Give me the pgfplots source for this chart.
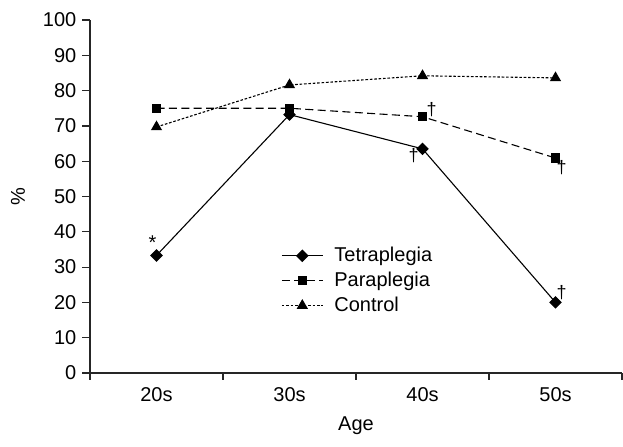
\documentclass[border=0pt]{standalone}
\usepackage{pgfplots}
\pgfplotsset{compat=1.18}
\usepackage{fontspec}
\setmainfont{Liberation Sans}
\usetikzlibrary{calc}

\pgfplotstableread{
x    tetra para ctrl
0.5  33.3  75.0 69.7
1.5  73.2  75.0 81.6
2.5  63.5  72.6 84.2
3.5  20.0  60.9 83.6
}\agedata

\begin{document}
\begin{tikzpicture}
\begin{axis}[
  scale only axis, width=266pt, height=176.5pt,
  xmin=0, xmax=4, ymin=0, ymax=100,
  axis x line=bottom, axis y line=left,
  axis line style={-, line width=0.6pt, black!85},
  xtick={0.5,1.5,2.5,3.5}, xticklabels={20s,30s,40s,50s},
  major x tick style={draw=none},
  minor xtick={0,1,2,3,4},
  minor tick length=3.3pt, major tick length=3.8pt,
  ytick={0,10,...,100},
  tick align=outside,
  tick style={line width=0.6pt, black!85},
  /pgf/number format/assume math mode=true,
  tick label style={font=\fontsize{10}{12}\selectfont},
  xticklabel style={yshift=0.2pt},
  yticklabel style={xshift=0.5pt},
  xlabel={Age}, ylabel={\%},
  label style={font=\fontsize{10}{12}\selectfont},
  every axis x label/.style={at={(axis description cs:0.5,0)}, yshift=-26.5pt, anchor=center},
  every axis y label/.style={at={(axis description cs:0,0.5)}, xshift=-36pt, rotate=90, anchor=center},
  legend style={draw=none, fill=none, at={(axis cs:1.42,37.5)}, anchor=north west,
    font=\fontsize{10}{12}\selectfont, row sep=-0.3pt, inner sep=1pt},
  legend cell align=left,
  legend image code/.code={\draw[mark repeat=2,mark phase=2,#1] plot coordinates {(0pt,0pt) (10.25pt,0pt) (20.5pt,0pt)};
    \path (24pt,0pt);},
  clip=false,
]
\addplot[black, line width=0.55pt, mark=square*, mark size=1.95pt, mark options={solid, rotate=45}]
  table[x=x, y=tetra] {\agedata};
\addlegendentry{Tetraplegia}
\addplot[black, line width=0.55pt, dash pattern=on 4pt off 2.2pt, mark=square*, mark size=2.1pt, mark options={solid}]
  table[x=x, y=para] {\agedata};
\addlegendentry{Paraplegia}
\addplot[black, line width=0.55pt, dash pattern=on 1.3pt off 0.9pt, mark=triangle*, mark size=2.7pt, mark options={solid}]
  table[x=x, y=ctrl] {\agedata};
\addlegendentry{Control}

\node[font=\fontsize{10}{12}\selectfont] at ($(axis cs:0.5,33.3)+(-2pt,6.5pt)$) {*};
\node[font=\fontsize{9}{10}\selectfont] at ($(axis cs:2.5,72.6)+(4.5pt,3.5pt)$) {†};
\node[font=\fontsize{9}{10}\selectfont] at ($(axis cs:2.5,63.5)+(-4.5pt,-3.5pt)$) {†};
\node[font=\fontsize{9}{10}\selectfont] at ($(axis cs:3.5,60.9)+(3pt,-5pt)$) {†};
\node[font=\fontsize{9}{10}\selectfont] at ($(axis cs:3.5,20.0)+(3pt,5pt)$) {†};
\end{axis}
\pgfresetboundingbox
\path[use as bounding box] ($(current axis.south west)+(-45pt,-36.5pt)$) rectangle ($(current axis.north east)+(0.5pt,10pt)$);
\end{tikzpicture}
\end{document}
